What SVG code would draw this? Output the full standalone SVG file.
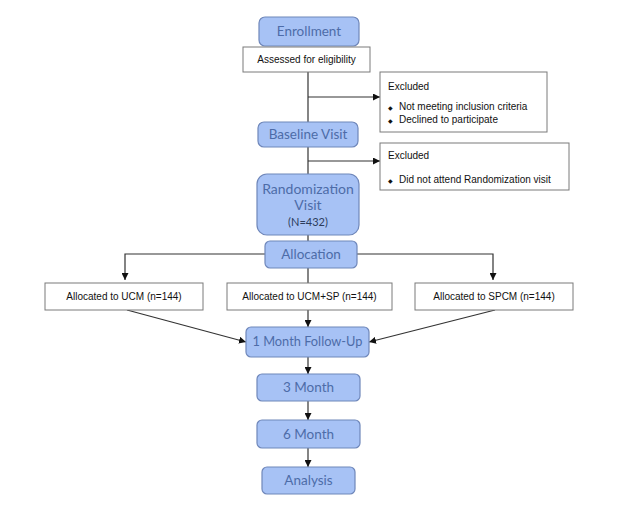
<svg xmlns="http://www.w3.org/2000/svg" width="620" height="512" viewBox="0 0 620 512">
<style>
.b{fill:#a7c2f5;stroke:#6f87ba;stroke-width:1.2}
.bt{font-family:Lato,"Liberation Sans",sans-serif;font-size:13.5px;fill:#4d6ca8;text-anchor:middle}
.w{fill:#fff;stroke:#7a7a7a;stroke-width:1}
.t{font-family:"Liberation Sans",Arial,sans-serif;font-size:10px;fill:#111}
.tc{text-anchor:middle}
.c{fill:none;stroke:#333;stroke-width:1.2}
</style>
<defs>
<marker id="a" viewBox="0 0 10 10" refX="10" refY="5" markerWidth="7" markerHeight="7" orient="auto" markerUnits="userSpaceOnUse">
<path d="M0,0L10,5L0,10z" fill="#111"/>
</marker>
</defs>
<rect width="620" height="512" fill="#fff"/>
<g id="connectors">
<path class="c" d="M308,72V122"/>
<path class="c" d="M308,97H380" marker-end="url(#a)"/>
<path class="c" d="M308,147V174"/>
<path class="c" d="M308,161H380" marker-end="url(#a)"/>
<path class="c" d="M308,235V241"/>
<path class="c" d="M265,254H125V280" marker-end="url(#a)"/>
<path class="c" d="M357,254H493V280" marker-end="url(#a)"/>
<path class="c" d="M308,268V283"/>
<path class="c" d="M308,310V327" marker-end="url(#a)"/>
<path class="c" d="M127,310L246,342" marker-end="url(#a)"/>
<path class="c" d="M495,310L369,342" marker-end="url(#a)"/>
<path class="c" d="M308,357V374" marker-end="url(#a)"/>
<path class="c" d="M308,401V420" marker-end="url(#a)"/>
<path class="c" d="M308,448V467" marker-end="url(#a)"/>
</g>
<g id="enrollment">
<rect class="b" x="259" y="17" width="100" height="29" rx="6"/>
<text class="bt" x="309" y="36">Enrollment</text>
</g>
<g id="assessed">
<rect class="w" x="243" y="47" width="127" height="25"/>
<text class="t tc" x="306.5" y="63">Assessed for eligibility</text>
</g>
<g id="excluded1">
<rect class="w" x="380" y="72" width="167" height="60"/>
<text class="t" x="388" y="90">Excluded</text>
<text class="t" x="388" y="110"><tspan font-size="6">◆</tspan><tspan x="399">Not meeting inclusion criteria</tspan></text>
<text class="t" x="388" y="123"><tspan font-size="6">◆</tspan><tspan x="399">Declined to participate</tspan></text>
</g>
<g id="baseline">
<rect class="b" x="258" y="122" width="100" height="25" rx="6"/>
<text class="bt" x="308" y="139">Baseline Visit</text>
</g>
<g id="excluded2">
<rect class="w" x="380" y="143" width="189" height="47"/>
<text class="t" x="388" y="159">Excluded</text>
<text class="t" x="388" y="183"><tspan font-size="6">◆</tspan><tspan x="399">Did not attend Randomization visit</tspan></text>
</g>
<g id="randomization">
<rect class="b" x="257" y="174" width="102" height="61" rx="10"/>
<text class="bt" x="308" y="194" style="font-size:14px">Randomization</text>
<text class="bt" x="308" y="210" style="font-size:14px">Visit</text>
<text class="bt" x="308" y="226" style="font-size:11px;fill:#2c3c5c">(N=432)</text>
</g>
<g id="allocation">
<rect class="b" x="265" y="241" width="92" height="27" rx="5"/>
<text class="bt" x="311" y="259">Allocation</text>
</g>
<g id="ucm">
<rect class="w" x="45" y="283" width="158" height="27"/>
<text class="t tc" x="124" y="300">Allocated to UCM (n=144)</text>
</g>
<g id="ucmsp">
<rect class="w" x="227" y="283" width="165" height="27"/>
<text class="t tc" x="309.5" y="300">Allocated to UCM+SP (n=144)</text>
</g>
<g id="spcm">
<rect class="w" x="415" y="283" width="158" height="27"/>
<text class="t tc" x="494" y="300">Allocated to SPCM (n=144)</text>
</g>
<g id="month1">
<rect class="b" x="246" y="327" width="123" height="30" rx="5"/>
<text class="bt" x="307.5" y="346" style="font-size:12.8px">1 Month Follow-Up</text>
</g>
<g id="month3">
<rect class="b" x="257" y="374" width="103" height="27" rx="5"/>
<text class="bt" x="308.5" y="392">3 Month</text>
</g>
<g id="month6">
<rect class="b" x="257" y="420" width="103" height="28" rx="5"/>
<text class="bt" x="308.5" y="439">6 Month</text>
</g>
<g id="analysis">
<rect class="b" x="262" y="467" width="93" height="27" rx="5"/>
<text class="bt" x="308.5" y="485">Analysis</text>
</g>
</svg>
